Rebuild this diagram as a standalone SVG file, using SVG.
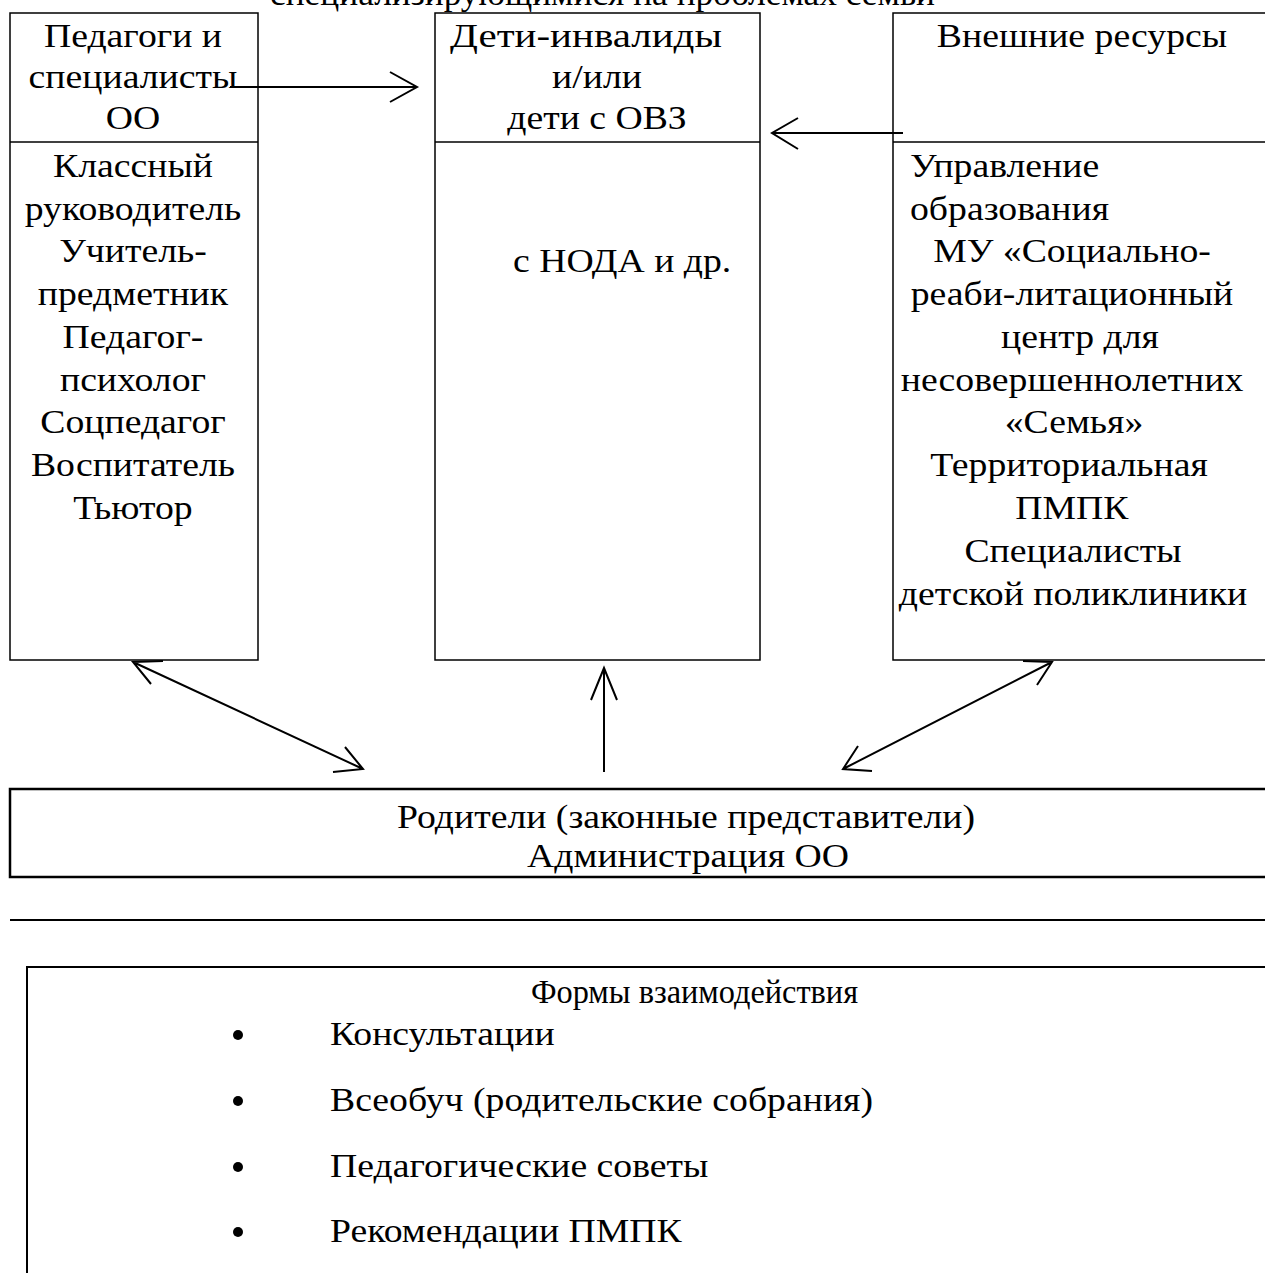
<svg xmlns="http://www.w3.org/2000/svg" width="1265" height="1273" viewBox="0 0 1265 1273">
<style>
text{font-family:"Liberation Serif","Times New Roman",serif;font-size:34px;fill:#000}
.c{text-anchor:middle;transform-box:fill-box;transform-origin:center;transform:scaleX(1.11)}
.l{transform-box:fill-box;transform-origin:left center;transform:scaleX(1.11)}
.box{fill:none;stroke:#000;stroke-width:1.5}
.thick{fill:none;stroke:#000;stroke-width:2.5}
.con{fill:none;stroke:#000;stroke-width:2}
</style>
<rect width="1265" height="1273" fill="#fff"/>
<text x="270" y="5" textLength="665" lengthAdjust="spacingAndGlyphs">специализирующимися на проблемах семьи</text>
<g id="pedagogi">
<rect class="box" x="10" y="13" width="248" height="647"/>
<line class="box" x1="10" y1="142" x2="258" y2="142"/>
<text class="c" x="133" y="47">Педагоги и</text>
<text class="c" x="133" y="88">специалисты</text>
<text class="c" x="133" y="129">ОО</text>
<text class="c" x="133" y="177">Классный</text>
<text class="c" x="133" y="220">руководитель</text>
<text class="c" x="133" y="262">Учитель-</text>
<text class="c" x="133" y="305">предметник</text>
<text class="c" x="133" y="348">Педагог-</text>
<text class="c" x="133" y="391">психолог</text>
<text class="c" x="133" y="433">Соцпедагог</text>
<text class="c" x="133" y="476">Воспитатель</text>
<text class="c" x="133" y="519">Тьютор</text>
</g>
<g id="deti">
<rect class="box" x="435" y="13" width="325" height="647"/>
<line class="box" x1="435" y1="142" x2="760" y2="142"/>
<text class="c" x="586" y="47" textLength="245" lengthAdjust="spacingAndGlyphs">Дети-инвалиды</text>
<text class="c" x="597" y="88">и/или</text>
<text class="c" x="597" y="129">дети с ОВЗ</text>
<text class="l" x="513" y="272">с НОДА и др.</text>
</g>
<g id="vneshnie">
<path class="box" d="M1270 13 H893 V660 H1270 M893 142 H1270"/>
<text class="c" x="1082" y="47">Внешние ресурсы</text>
<text class="l" x="910" y="177">Управление</text>
<text class="l" x="910" y="220">образования</text>
<text class="c" x="1072" y="262">МУ «Социально-</text>
<text class="c" x="1072" y="305">реаби-литационный</text>
<text class="c" x="1080" y="348">центр для</text>
<text class="c" x="1072" y="391">несовершеннолетних</text>
<text class="c" x="1074" y="433">«Семья»</text>
<text class="c" x="1069" y="476">Территориальная</text>
<text class="c" x="1072" y="519">ПМПК</text>
<text class="c" x="1073" y="562">Специалисты</text>
<text class="c" x="1073" y="605">детской поликлиники</text>
</g>
<g id="roditeli">
<path class="thick" d="M1270 789 H10 V877 H1270"/>
<text class="c" x="686" y="828">Родители (законные представители)</text>
<text class="c" x="688" y="867">Администрация ОО</text>
</g>
<g id="separator">
<line class="con" x1="10" y1="920" x2="1265" y2="920"/>
</g>
<g id="formy">
<path class="con" d="M1270 967 H27 V1275"/>
<text x="531" y="1003" textLength="327" lengthAdjust="spacingAndGlyphs">Формы взаимодействия</text>
<g>
<circle cx="238" cy="1035" r="5"/>
<circle cx="238" cy="1101" r="5"/>
<circle cx="238" cy="1167" r="5"/>
<circle cx="238" cy="1232" r="5"/>
</g>
<text class="l" x="330" y="1045">Консультации</text>
<text class="l" x="330" y="1111">Всеобуч (родительские собрания)</text>
<text class="l" x="330" y="1177">Педагогические советы</text>
<text class="l" x="330" y="1242">Рекомендации ПМПК</text>
</g>
<g id="connectors" class="con">
<path d="M230 87 H416 M390 72 L417 87 L390 102"/>
<path d="M903 133 H773 M798 118 L772 133 L798 149"/>
<path d="M133 662 L363 769 M151 684 L133 662 L163 661 M345 747 L363 769 L333 772"/>
<path d="M604 772 V668 M591 700 L604 668 L617 700"/>
<path d="M1052 662 L843 769 M1023 661 L1052 662 L1037 685 M858 746 L843 769 L872 771"/>
</g>
</svg>
